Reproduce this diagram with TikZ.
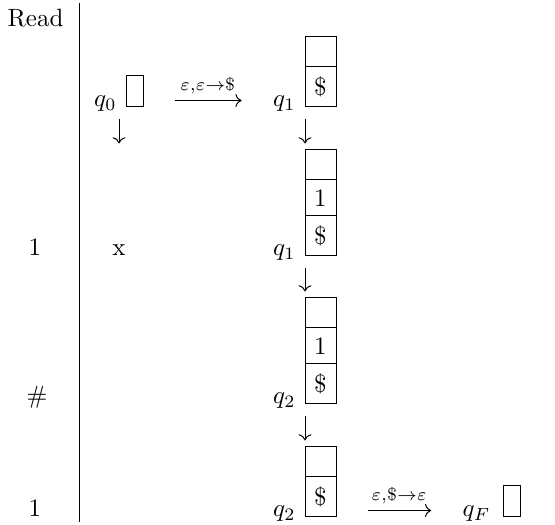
\documentclass[tikz,border=0pt]{standalone}
\usepackage{amsmath, amssymb}
\usepackage{tikz}
\usetikzlibrary{arrows.meta, positioning}

\begin{document}
\begin{tikzpicture}[
        x=0.4pt, y=-0.4pt,
        sym/.style={anchor=base},
        stlbl/.style={anchor=base east, inner sep=0pt},
        cell/.style={draw, minimum width=12.4pt, inner sep=0pt, outer sep=0pt},
        topcell/.style={cell, minimum height=12pt},
        midcell/.style={cell, minimum height=14.4pt},
        botcell/.style={cell, minimum height=16pt},
        nilbox/.style={draw, minimum width=6.8pt, minimum height=12.4pt, inner sep=0pt, outer sep=0pt, anchor=south west},
        move/.style={-{To}, shorten <=5pt, shorten >=2.6pt},
        trans/.style={-{To}, shorten <=12.8pt, shorten >=12.4pt}
    ]

    % Frame
    \useasboundingbox (0,0) rectangle (555,525);

    % Input column
    \node[sym] (read) at (35.5,27) {Read};
    \node[sym] (in1) at (35,256) {1};
    \node[sym] (in2) at (37,404) {\#};
    \node[sym] (in3) at (35,517) {1};
    \draw (79,3) -- (79,522);

    % Row 1
    \node[stlbl] (q0) at (117,107) {$q_0$};
    \node[nilbox] (q0box) at (126,107) {};
    \node[stlbl] (q1a) at (296,107) {$q_1$};
    \node[botcell, anchor=south west] (sa0) at (305,107) {\$};
    \node[topcell, above=0pt of sa0] (sa1) {};

    % Row 2
    \node[sym] (rej) at (119,256) {x};
    \node[stlbl] (q1b) at (296,256) {$q_1$};
    \node[botcell, anchor=south west] (sb0) at (305,256) {\$};
    \node[midcell, above=0pt of sb0] (sb1) {1};
    \node[topcell, above=0pt of sb1] (sb2) {};

    % Row 3
    \node[stlbl] (q2a) at (296,404) {$q_2$};
    \node[botcell, anchor=south west] (sc0) at (305,404) {\$};
    \node[midcell, above=0pt of sc0] (sc1) {1};
    \node[topcell, above=0pt of sc1] (sc2) {};

    % Row 4
    \node[stlbl] (q2b) at (296,517) {$q_2$};
    \node[botcell, anchor=south west] (sd0) at (305,517) {\$};
    \node[topcell, above=0pt of sd0] (sd1) {};
    \node[stlbl] (qF) at (491,517) {$q_F$};
    \node[nilbox] (qFbox) at (503,517) {};

    % Arrows
    \draw[trans] ([yshift=2.6pt]q0box.south east) -- ([yshift=2.6pt]q0box.south east -| q1a.west)
        node[midway, above, inner sep=2.5pt] {$\scriptstyle\varepsilon,\varepsilon\to\$$};
    \draw[move] (rej.north |- q0box.south) -- (rej.north |- sb2.north);
    \draw[move] (sa0.south west) -- (sb2.north west);
    \draw[move] (sb0.south west) -- (sc2.north west);
    \draw[move] (sc0.south west) -- (sd1.north west);
    \draw[trans] ([yshift=2.6pt]sd0.south east) -- ([yshift=2.6pt]sd0.south east -| qF.west)
        node[midway, above, inner sep=2.5pt] {$\scriptstyle\varepsilon,\$\to\varepsilon$};

\end{tikzpicture}
\end{document}
